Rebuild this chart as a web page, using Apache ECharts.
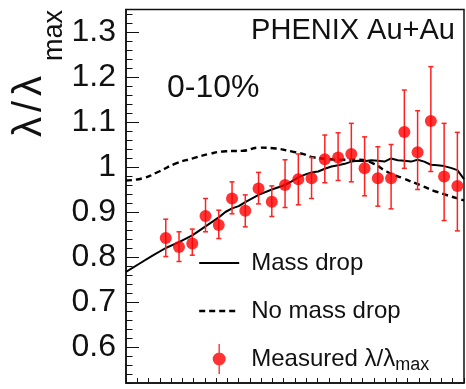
<!DOCTYPE html>
<html>
<head>
<meta charset="utf-8">
<script src="https://cdn.jsdelivr.net/npm/echarts@6/dist/echarts.min.js"></script>
<style>html,body{margin:0;padding:0;background:#fff}#c{width:466px;height:389px}</style>
</head>
<body>
<div id="c"></div>
<script>
// ---- data ----
const pointX = [3,4,5,6,7,8,9,10,11,12,13,14,15,16,17,18,19,20,21,22,23,24,25];
const measured = [0.842,0.822,0.830,0.891,0.871,0.930,0.903,0.952,0.923,0.960,0.973,0.975,1.017,1.021,1.029,0.997,0.975,0.975,1.078,1.033,1.102,0.979,0.958];
const errLow  = [0.801,0.790,0.804,0.856,0.841,0.896,0.867,0.918,0.890,0.910,0.916,0.930,0.965,0.970,0.967,0.936,0.913,0.907,0.997,0.950,0.990,0.881,0.858];
const errHigh = [0.884,0.856,0.862,0.930,0.904,0.967,0.938,0.988,0.958,1.016,1.029,1.021,1.071,1.076,1.097,1.067,1.045,1.050,1.171,1.125,1.223,1.097,1.077];

const massDropX = [0,1,2,3,4,5,6,7,7.5,8,8.5,9,10,11,12,12.5,13,13.5,14,14.5,15,15.5,16,16.5,17,17.5,18,18.5,19,19.5,20,20.5,21,21.5,22,22.5,23,23.5,24,24.5,25,25.5];
const massDropY = [0.767,0.785,0.803,0.820,0.833,0.848,0.868,0.888,0.900,0.908,0.913,0.922,0.938,0.950,0.960,0.968,0.977,0.983,0.988,0.990,0.996,1.001,1.004,1.007,1.012,1.014,1.013,1.015,1.014,1.012,1.019,1.015,1.014,1.012,1.016,1.012,1.005,1.004,1.002,0.998,0.993,0.973];

const noDropX = [0,1.26,2.49,3.77,5.03,6.26,7.54,8.8,10.03,11.31,12.57,13.33,14.08,15.08,16.14,17.65,18.63,19.66,20.89,22.17,23.43,25.5];
const noDropY = [0.970,0.975,0.990,1.008,1.019,1.029,1.035,1.036,1.043,1.041,1.034,1.029,1.022,1.018,1.016,1.016,1.008,0.990,0.975,0.960,0.945,0.926];

const yMajorTicks = [0.6,0.7,0.8,0.9,1.0,1.1,1.2,1.3];
const yMinorTicks = [0.52,0.54,0.56,0.58,0.62,0.64,0.66,0.68,0.72,0.74,0.76,0.78,0.82,0.84,0.86,0.88,0.92,0.94,0.96,0.98,1.02,1.04,1.06,1.08,1.12,1.14,1.16,1.18,1.22,1.24,1.26,1.28,1.32,1.34];

const seriesNames = ['Mass drop','No mass drop','Measured λ/λmax'];
const yMin = 0.52, yMax = 1.35, xMin = 0, xMax = 25.5;

// ---- chart ----
const FONT = 'Liberation Sans';
const INK = '#111';
const chart = echarts.init(document.getElementById('c'), null, {renderer:'canvas'});

const scatterData = pointX.map((x,i)=>[x, measured[i]]);
const errData = pointX.map((x,i)=>[x, errLow[i], errHigh[i]]);

const markerIcon = 'path://M0,15 L0.01,15 L0,15.01 Z M40,15 L39.99,15 L40,15.01 Z M19.3,0 L20.7,0 L20.7,30 L19.3,30 Z M26.5,15 A6.5,6.5 0 1,1 13.5,15 A6.5,6.5 0 1,1 26.5,15 Z';
const hiddenSymbol = {color:'rgba(0,0,0,0)', borderWidth:0, opacity:0};

chart.setOption({
  animation: false,
  backgroundColor: '#fff',
  grid: {left:126, right:2, top:9.5, bottom:6, show:true, borderColor:INK, borderWidth:1.5, backgroundColor:'transparent'},
  xAxis: {
    type:'value', min:xMin, max:xMax, interval:0.85,
    axisLine:{show:true, lineStyle:{color:INK, width:1.5}},
    axisTick:{show:true, inside:true, length:5, lineStyle:{color:INK, width:1}},
    axisLabel:{show:false}, splitLine:{show:false}
  },
  yAxis: [{
    type:'value', min:yMin, max:yMax,
    axisLine:{show:true, lineStyle:{color:INK, width:1.5}},
    axisTick:{show:true, inside:true, length:13, customValues:yMajorTicks, lineStyle:{color:INK, width:1}},
    axisLabel:{show:true, customValues:yMajorTicks, margin:10, fontSize:32, fontFamily:FONT, color:INK,
      formatter: v => String(+(+v).toFixed(2))},
    splitLine:{show:false}
  },{
    type:'value', min:yMin, max:yMax, position:'left', gridIndex:0,
    axisLine:{show:false},
    axisTick:{show:true, inside:true, length:6.5, customValues:yMinorTicks, lineStyle:{color:INK, width:1}},
    axisLabel:{show:false}, splitLine:{show:false}
  }],
  legend: {
    orient:'vertical', left:198, top:248, padding:0, itemWidth:40, itemHeight:30, itemGap:18,
    data:[
      {name:seriesNames[0], itemStyle:hiddenSymbol, lineStyle:{color:'#000', width:2}},
      {name:seriesNames[1], itemStyle:hiddenSymbol, lineStyle:{color:'#000', width:2.4, type:[6,4]}},
      {name:seriesNames[2], icon:markerIcon}
    ],
    textStyle:{fontSize:24, lineHeight:30, fontFamily:FONT, color:INK, padding:[0,0,0,7],
      rich:{n:{fontSize:24, lineHeight:30, fontFamily:FONT, color:INK}, s:{fontSize:18, lineHeight:12, fontFamily:FONT, color:INK, verticalAlign:'bottom'}}},
    formatter: name => name === seriesNames[2] ? '{n|Measured λ/λ}{s|max}' : name,
    selectedMode:false
  },
  series: [
    {name:seriesNames[0], type:'line', data:massDropX.map((x,i)=>[x,massDropY[i]]), symbol:'none', smooth:false,
      lineStyle:{color:'#000', width:2}, itemStyle:{color:'#000'}, z:3},
    {name:seriesNames[1], type:'line', data:noDropX.map((x,i)=>[x,noDropY[i]]), symbol:'none', smooth:true,
      lineStyle:{color:'#000', width:2.4, type:[6,4]}, itemStyle:{color:'#000'}, z:3},
    {name:'err', type:'custom', data:errData, z:4,
      renderItem:(params, api)=>{
        const x = api.value(0);
        const lo = api.coord([x, api.value(1)]);
        const hi = api.coord([x, api.value(2)]);
        const st = {stroke:'#ff2020', lineWidth:1.5};
        return {type:'group', children:[
          {type:'line', shape:{x1:lo[0], y1:lo[1], x2:hi[0], y2:hi[1]}, style:st},
          {type:'line', shape:{x1:lo[0]-2.5, y1:lo[1], x2:lo[0]+2.5, y2:lo[1]}, style:st},
          {type:'line', shape:{x1:hi[0]-2.5, y1:hi[1], x2:hi[0]+2.5, y2:hi[1]}, style:st}
        ]};
      }},
    {name:seriesNames[2], type:'scatter', data:scatterData, symbol:'circle', symbolSize:12,
      itemStyle:{color:'#ff0000'}, z:5}
  ],
  graphic: [
    {type:'text', x:455, y:31, style:{text:'PHENIX Au+Au', font:'29px "Liberation Sans"', fill:INK, align:'right', verticalAlign:'middle'}},
    {type:'text', x:167, y:88, style:{text:'0-10%', font:'32px "Liberation Sans"', fill:INK, align:'left', verticalAlign:'middle'}},
    {type:'text', x:30, y:137, rotation:Math.PI/2, style:{text:'{a|λ}{b|/}{a|λ}', align:'left', verticalAlign:'middle', fill:INK,
      rich:{a:{fontSize:40, fontFamily:FONT, fill:INK}, b:{fontSize:40, fontFamily:FONT, fill:INK, padding:[0,5,0,5]}}}},
    {type:'text', x:54.5, y:61, rotation:Math.PI/2, style:{text:'max', font:'27px "Liberation Sans"', fill:INK, align:'left', verticalAlign:'middle'}}
  ]
});
</script>
</body>
</html>
